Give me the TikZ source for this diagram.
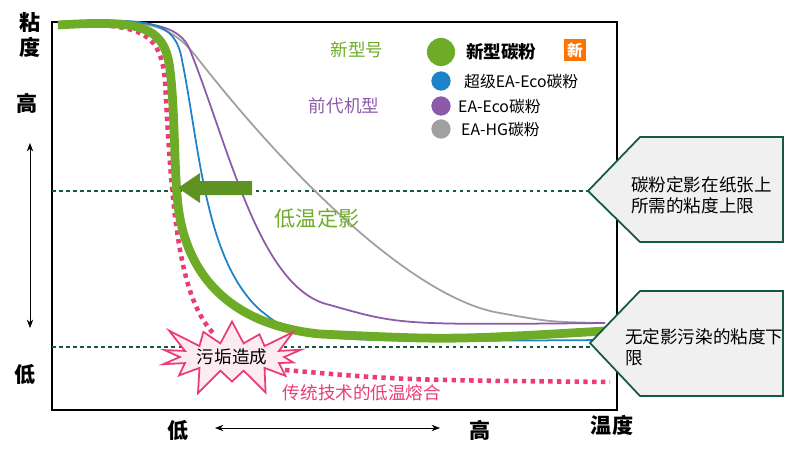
\documentclass[tikz,border=0pt]{standalone}
\usepackage{fontspec}
\setmainfont{Noto Sans CJK SC}
\usetikzlibrary{shapes.symbols,arrows.meta}
\definecolor{tgreen}{RGB}{110,172,40}
\definecolor{tblue}{RGB}{30,130,200}
\definecolor{tpurple}{RGB}{140,90,170}
\definecolor{tgray}{RGB}{160,160,160}
\definecolor{tpink}{RGB}{235,60,120}
\definecolor{dgreen}{RGB}{20,90,60}
\begin{document}
\begin{tikzpicture}[x=0.02cm,y=-0.02cm,
limit/.style={dgreen,line width=1.2pt,dash pattern=on 2pt off 2pt},
callout/.style={draw=dgreen,line width=1pt,fill=gray!12},
legdot/.style={circle,inner sep=0pt,minimum width=9pt,minimum height=11pt},
legtext/.style={font=\small,anchor=west}]
\useasboundingbox (0,0) rectangle (786,453);
% frame
\draw[line width=1.5pt] (52,22) rectangle (617,410);
% limit lines
\draw[limit] (52,191)--(590,191);
\draw[limit] (52,347)--(592,347);
% curves
\draw[tgray,line width=1pt] (58,22) .. controls (150,18) and (170,25) .. (195,55)
  .. controls (300,190) and (420,300) .. (500,313) .. controls (550,322) .. (605,323);
\draw[tpurple,line width=1pt] (58,22) .. controls (150,18) and (180,25) .. (190,50)
  .. controls (230,150) and (260,290) .. (330,305) .. controls (400,325) .. (605,323);
\draw[tblue,line width=1pt] (58,22) .. controls (150,18) and (175,20) .. (182,60)
  .. controls (200,150) and (205,260) .. (260,310) .. controls (300,342) .. (605,340);
\draw[tpink,line width=2.6pt,dash pattern=on 2.5pt off 2.5pt] (58,24) .. controls (140,24) and (160,30) .. (165,80)
  .. controls (172,220) and (180,300) .. (215,335);
\draw[tpink,line width=2.6pt,dash pattern=on 2.5pt off 2.5pt] (285,370) .. controls (400,380) .. (610,382);
\draw[tgreen,line width=5pt] (58,25) .. controls (140,20) and (165,25) .. (170,70)
  .. controls (175,110) and (174,170) .. (178,205) .. controls (186,275) and (230,325) .. (320,334)
  .. controls (450,340) .. (605,331);
% arrow to lower temperature
\fill[tgreen!85!black] (252,181) -- (200,181) -- (200,173) -- (178,188) -- (200,203) -- (200,195) -- (252,195) -- cycle;
\node[tgreen,font=\large] (lowfix) at (317,218) {低温定影};
% star
\node[starburst,draw=tpink,fill=tpink!10,line width=1pt,starburst points=14,starburst point height=0.6cm,
  inner sep=1pt,font=\normalsize] (dirt) at (232,357) {污垢造成};
\node[tpink] (oldfuse) at (362,393) {传统技术的低温熔合};
% legend
\node[tgreen] (newlab) at (357,50) {新型号};
\node[legdot,fill=tgreen,minimum width=15pt,minimum height=16pt] (dgreenpt) at (441,52) {};
\node[legtext,font=\bfseries] (newtoner) at (460,52) {新型碳粉};
\node[fill=orange!90!red,text=white,inner sep=2pt,font=\small\bfseries] (newtag) at (575,50) {新};
\node[tpurple] (oldlab) at (344,106) {前代机型};
\node[legdot,fill=tblue] (dblue) at (441,81) {};
\node[legtext] (superEA) at (458,81) {超级EA-Eco碳粉};
\node[legdot,fill=tpurple] (dpurple) at (441,106) {};
\node[legtext] (EA) at (452,106) {EA-Eco碳粉};
\node[legdot,fill=tgray] (dgray) at (441,129) {};
\node[legtext] (EAHG) at (455,129) {EA-HG碳粉};
% callouts
\draw[callout] (588,191) -- (640,137) -- (783,137) -- (783,242) -- (640,242) -- cycle;
\node[anchor=north west,align=left] (upper) at (625,170) {碳粉定影在纸张上\\所需的粘度上限};
\draw[callout] (590,343) -- (640,291) -- (783,291) -- (783,396) -- (640,396) -- cycle;
\node[anchor=north west,align=left] (lower) at (619,322) {无定影污染的粘度下\\限};
% axes labels
\node[font=\large\bfseries,align=center] (visc) at (30,35) {粘\\度};
\node[font=\large\bfseries] (vhigh) at (27,103) {高};
\node[font=\large\bfseries] (vlow) at (25,375) {低};
\draw[{Stealth}-{Stealth}] (30,143) -- (30,328);
\node[font=\large\bfseries] (thigh) at (480,430) {高};
\node[font=\large\bfseries] (tlow) at (178,430) {低};
\node[font=\large\bfseries] (temp) at (612,425) {温度};
\draw[{Stealth}-{Stealth}] (215,428) -- (440,428);
\end{tikzpicture}
\end{document}
